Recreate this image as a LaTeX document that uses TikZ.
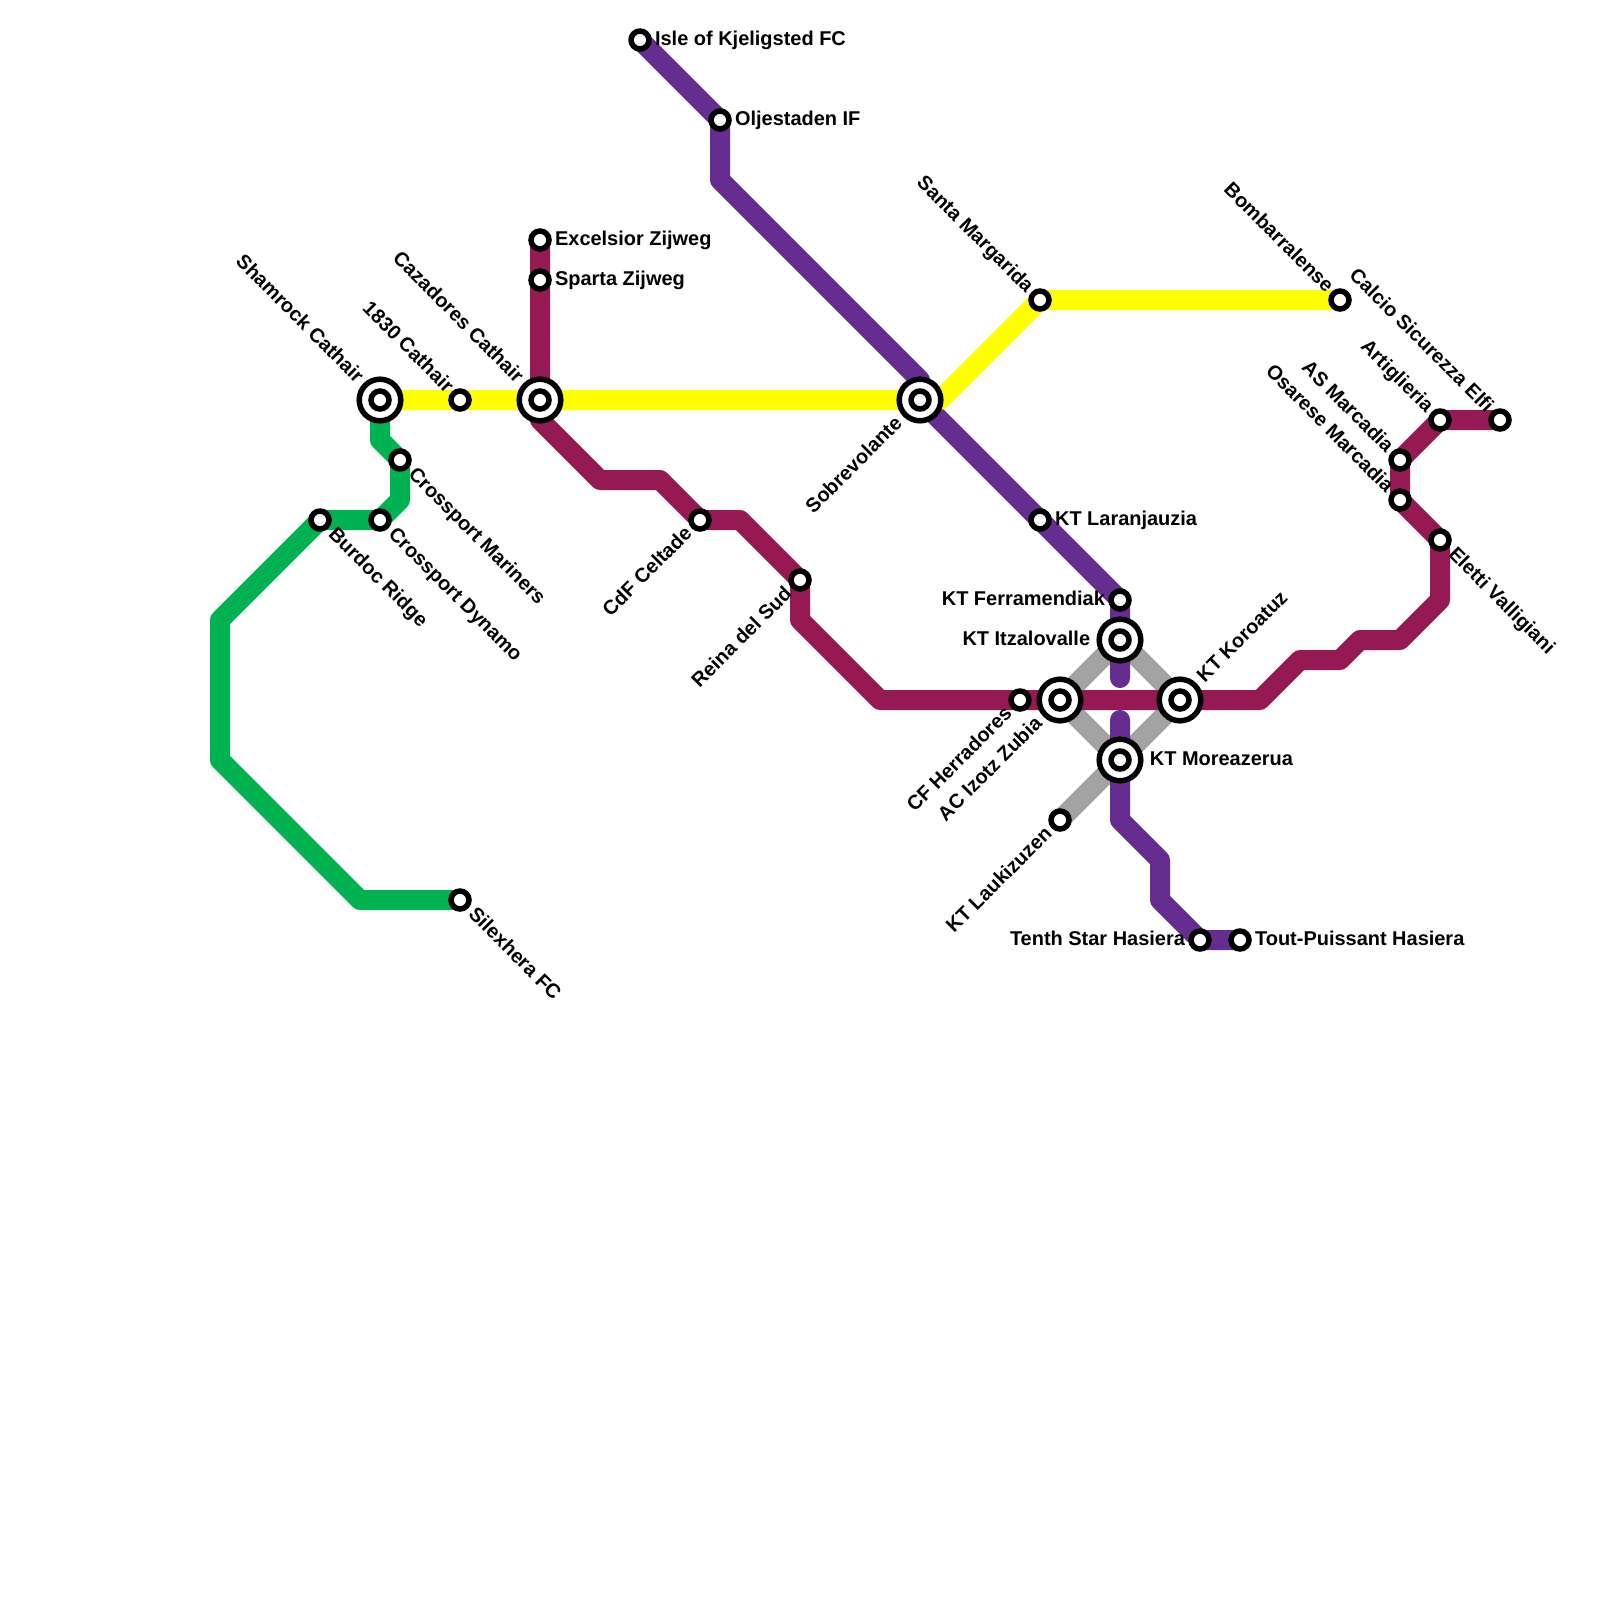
\documentclass[tikz,border=0pt]{standalone}
\usepackage{fontspec}
\setmainfont{Liberation Sans}
\definecolor{linegreen}{HTML}{00B251}
\definecolor{lineyellow}{HTML}{FFFF00}
\definecolor{linepurple}{HTML}{662D91}
\definecolor{linewine}{HTML}{951A54}
\definecolor{linegray}{HTML}{A3A3A3}
\tikzset{
	route/.style={line width=0.5cm, line join=round, line cap=round},
	stn/.style={circle, draw=black, fill=white, line width=0.1375cm, minimum size=0.45cm, inner sep=0pt},
	hub/.style={circle, draw=black, fill=white, line width=0.1375cm, minimum size=1.04cm, inner sep=0pt,
		path picture={\draw[black, fill=white, line width=0.1375cm] (path picture bounding box.center) circle (0.225cm);}},
	lbl/.style={font=\bfseries\fontsize{14.2pt}{16pt}\selectfont, inner sep=0pt, text height=0.36cm, text depth=0.08cm},
	lble/.style={lbl, anchor=west, xshift=0.37cm},
	lblw/.style={lbl, anchor=east, xshift=-0.37cm},
	lblnw/.style={lbl, rotate=-45, anchor=east, xshift=-0.36cm},
	lblse/.style={lbl, rotate=-45, anchor=west, xshift=0.40cm},
	lblsw/.style={lbl, rotate=45, anchor=east, xshift=-0.38cm},
	lblne/.style={lbl, rotate=45, anchor=west, xshift=0.38cm}
}
\begin{document}
\begin{tikzpicture}[x=0.5cm, y=-0.5cm]
	\useasboundingbox (0,0) rectangle (80,80);
	\coordinate (shamrockc) at (19,20);
	\coordinate (cazadoresc) at (27,20);
	\coordinate (sobrevc) at (46,20);
	\coordinate (itzalc) at (56,32);
	\coordinate (izotzc) at (53,35);
	\coordinate (moreac) at (56,38);
	\coordinate (koroac) at (59,35);
	\coordinate (laukic) at (53,41);
	% routes
	\draw[route, linegray] (itzalc)--(izotzc)--(moreac)--(koroac)--cycle;
	\draw[route, linegray] (moreac)--(laukic);
	\draw[route, linegreen] (shamrockc)--(19,22)--(20,23)--(20,25)--(19,26)--(16,26)--(11,31)--(11,38)--(18,45)--(23,45);
	\draw[route, linepurple] (32,2)--(36,6)--(36,9)--(46,19)--(sobrevc)--(56,30)--(56,33.9);
	\draw[route, linepurple] (56,36)--(moreac)--(56,41)--(58,43)--(58,45)--(60,47)--(62,47);
	\draw[route, linewine] (27,12)--(cazadoresc)--(27,21)--(30,24)--(33,24)--(35,26)--(37,26)--(40,29)--(40,31)--(44,35)--(63,35)--(65,33)--(67,33)--(68,32)--(70,32)--(72,30)--(72,27)--(70,25)--(70,23)--(72,21)--(75,21);
	\draw[route, lineyellow] (shamrockc)--(47,20)--(52,15)--(67,15);
	% green
	\node[hub] (shamrock) at (shamrockc) {};
	\node[stn] (mariners) at (20,23) {};
	\node[stn] (dynamo) at (19,26) {};
	\node[stn] (burdoc) at (16,26) {};
	\node[stn] (silexhera) at (23,45) {};
	\node[lblnw, xshift=-0.35cm] (shamrocklbl) at (shamrock) {Shamrock Cathair};
	\node[lblse] (marinerslbl) at (mariners) {Crossport Mariners};
	\node[lblse] (dynamolbl) at (dynamo) {Crossport Dynamo};
	\node[lblse] (burdoclbl) at (burdoc) {Burdoc Ridge};
	\node[lblse] (silexheralbl) at (silexhera) {Silexhera FC};
	% yellow
	\node[stn] (cathair) at (23,20) {};
	\node[hub] (cazadores) at (cazadoresc) {};
	\node[hub] (sobrev) at (sobrevc) {};
	\node[stn] (santa) at (52,15) {};
	\node[stn] (bombar) at (67,15) {};
	\node[lblnw] (cathairlbl) at (cathair) {1830 Cathair};
	\node[lblnw, xshift=-0.35cm] (cazadoreslbl) at (cazadores) {Cazadores Cathair};
	\node[lblsw, xshift=-0.35cm] (sobrevlbl) at (sobrev) {Sobrevolante};
	\node[lblnw] (santalbl) at (santa) {Santa Margarida};
	\node[lblnw] (bombarlbl) at (bombar) {Bombarralense};
	% purple
	\node[stn] (isle) at (32,2) {};
	\node[stn] (oljes) at (36,6) {};
	\node[stn] (laranj) at (52,26) {};
	\node[stn] (ferram) at (56,30) {};
	\node[hub] (itzal) at (itzalc) {};
	\node[hub] (morea) at (moreac) {};
	\node[stn] (tenth) at (60,47) {};
	\node[stn] (toutp) at (62,47) {};
	\node[lble] (islelbl) at (isle) {Isle of Kjeligsted FC};
	\node[lble] (oljeslbl) at (oljes) {Oljestaden IF};
	\node[lble] (laranjlbl) at (laranj) {KT Laranjauzia};
	\node[lblw] (ferramlbl) at (ferram) {KT Ferramendiak};
	\node[lblw, xshift=-0.37cm] (itzallbl) at (itzal) {KT Itzalovalle};
	\node[lble, xshift=0.37cm] (morealbl) at (morea) {KT Moreazerua};
	\node[lblw] (tenthlbl) at (tenth) {Tenth Star Hasiera};
	\node[lble] (toutplbl) at (toutp) {Tout-Puissant Hasiera};
	% wine
	\node[stn] (excel) at (27,12) {};
	\node[stn] (sparta) at (27,14) {};
	\node[stn] (celtade) at (35,26) {};
	\node[stn] (reina) at (40,29) {};
	\node[stn] (herra) at (51,35) {};
	\node[hub] (izotz) at (izotzc) {};
	\node[hub] (koroa) at (koroac) {};
	\node[stn] (eletti) at (72,27) {};
	\node[stn] (osarese) at (70,25) {};
	\node[stn] (marcadia) at (70,23) {};
	\node[stn] (artig) at (72,21) {};
	\node[stn] (calcio) at (75,21) {};
	\node[lble] (excellbl) at (excel) {Excelsior Zijweg};
	\node[lble] (spartalbl) at (sparta) {Sparta Zijweg};
	\node[lblsw] (celtadelbl) at (celtade) {CdF Celtade};
	\node[lblsw] (reinalbl) at (reina) {Reina del Sud};
	\node[lblsw] (herralbl) at (herra) {CF Herradores};
	\node[lblsw, xshift=-0.35cm] (izotzlbl) at (izotz) {AC Izotz Zubia};
	\node[lblne, xshift=0.35cm] (koroalbl) at (koroa) {KT Koroatuz};
	\node[lblse] (elettilbl) at (eletti) {Eletti Valligiani};
	\node[lblnw] (osareselbl) at (osarese) {Osarese Marcadia};
	\node[lblnw] (marcadialbl) at (marcadia) {AS Marcadia};
	\node[lblnw] (artiglbl) at (artig) {Artiglieria};
	\node[lblnw] (calciolbl) at (calcio) {Calcio Sicurezza Elfi};
	% gray
	\node[stn] (lauki) at (laukic) {};
	\node[lblsw] (laukilbl) at (lauki) {KT Laukizuzen};
\end{tikzpicture}
\end{document}
